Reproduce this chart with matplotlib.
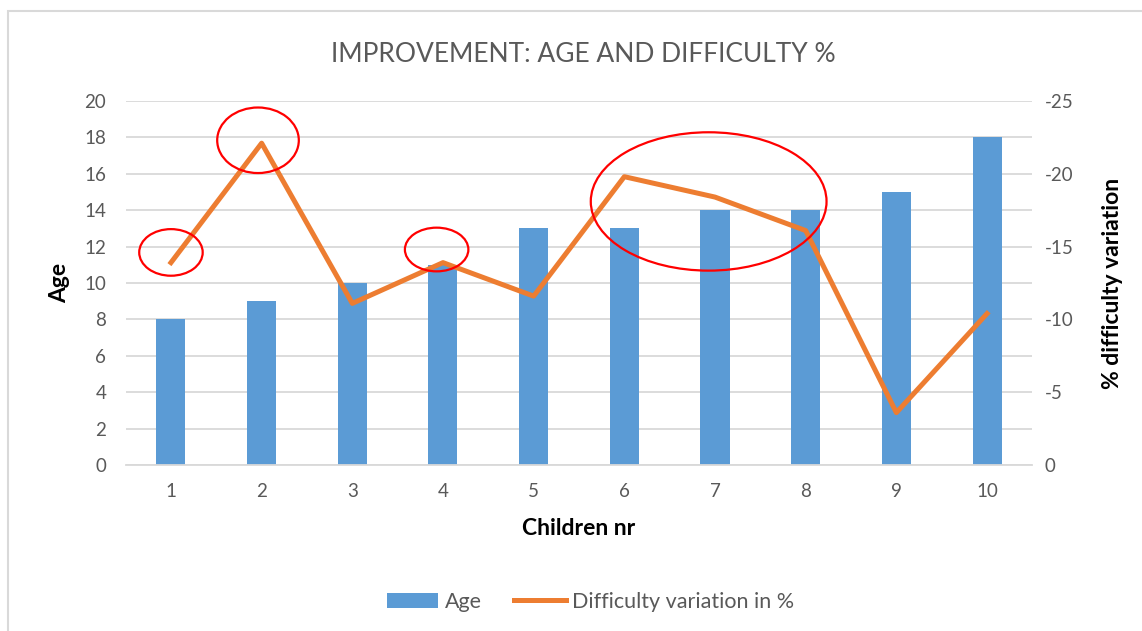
import matplotlib
matplotlib.use('Agg')
import matplotlib.pyplot as plt
from matplotlib.patches import Ellipse, Rectangle, Patch
from matplotlib.lines import Line2D

plt.rcParams['font.family'] = ['Lato', 'DejaVu Sans']
plt.rcParams['axes.unicode_minus'] = False

children = [1, 2, 3, 4, 5, 6, 7, 8, 9, 10]
age = [8, 9, 10, 11, 13, 13, 14, 14, 15, 18]
difficulty = [-13.9, -22.1, -11.1, -13.9, -11.6, -19.8, -18.4, -16.1, -3.6, -10.4]

# red circles drawn on the chart (x, y on the difficulty axis, width, height)
circles = [(1.0, -14.6, 0.70, 3.2),
           (1.96, -22.3, 0.90, 4.5),
           (3.93, -14.8, 0.70, 3.0),
           (6.93, -18.1, 2.60, 9.5)]

blue = '#5B9BD5'
orange = '#ED7D31'
grey = '#595959'

fig = plt.figure(figsize=(11.42, 6.31), dpi=100)
ax = fig.add_axes([0.110, 0.263, 0.794, 0.577])

# chart frame
fig.patches.append(Rectangle((8 / 1142, -0.05), 1.2, 1 - 11 / 631 + 0.05,
                             transform=fig.transFigure, fill=False,
                             edgecolor='#D9D9D9', lw=1.5, zorder=0))

ax.bar(children, age, width=0.32, color=blue, zorder=2)
ax.set_xlim(0.5, 10.5)
ax.set_ylim(0, 20)
ax.set_yticks(range(0, 21, 2))
ax.set_xticks(children)
ax.grid(axis='y', color='#D9D9D9', lw=1.3, zorder=0)
ax.set_axisbelow(True)
for s in ['top', 'right', 'left']:
    ax.spines[s].set_visible(False)
ax.spines['bottom'].set_color('#D9D9D9')
ax.spines['bottom'].set_linewidth(1.3)
ax.tick_params(length=0, labelsize=13.5, labelcolor=grey, pad=14)
ax.tick_params(axis='x', pad=13)
ax.set_xlabel('Children nr', fontsize=16.5, fontweight='bold', labelpad=13)
ax.set_ylabel('Age', fontsize=16.5, fontweight='bold', labelpad=10)

ax2 = ax.twinx()
ax2.plot(children, difficulty, color=orange, lw=3.6, zorder=3)
ax2.set_ylim(0, -25)
ax2.set_yticks(range(0, -26, -5))
for s in ax2.spines.values():
    s.set_visible(False)
ax2.tick_params(length=0, labelsize=13.5, labelcolor=grey, pad=9)
ax2.set_ylabel('% difficulty variation', fontsize=16.5, fontweight='bold', labelpad=20)

for cx, cy, w, h in circles:
    ax2.add_patch(Ellipse((cx, cy), w, h, fill=False, edgecolor='red', lw=1.6, zorder=4))

fig.text(0.511, 0.914, 'IMPROVEMENT: AGE AND DIFFICULTY %', ha='center', va='center',
         fontsize=19, color=grey)

handles = [Patch(facecolor=blue), Line2D([], [], color=orange, lw=3.6)]
fig.legend(handles, ['Age', 'Difficulty variation in %'], loc='center',
           bbox_to_anchor=(0.517, 0.046), ncol=2, frameon=False, fontsize=15.5,
           labelcolor=grey, handlelength=2.4, handletextpad=0.3, columnspacing=1.5)

fig.savefig('out.png', dpi=100)
